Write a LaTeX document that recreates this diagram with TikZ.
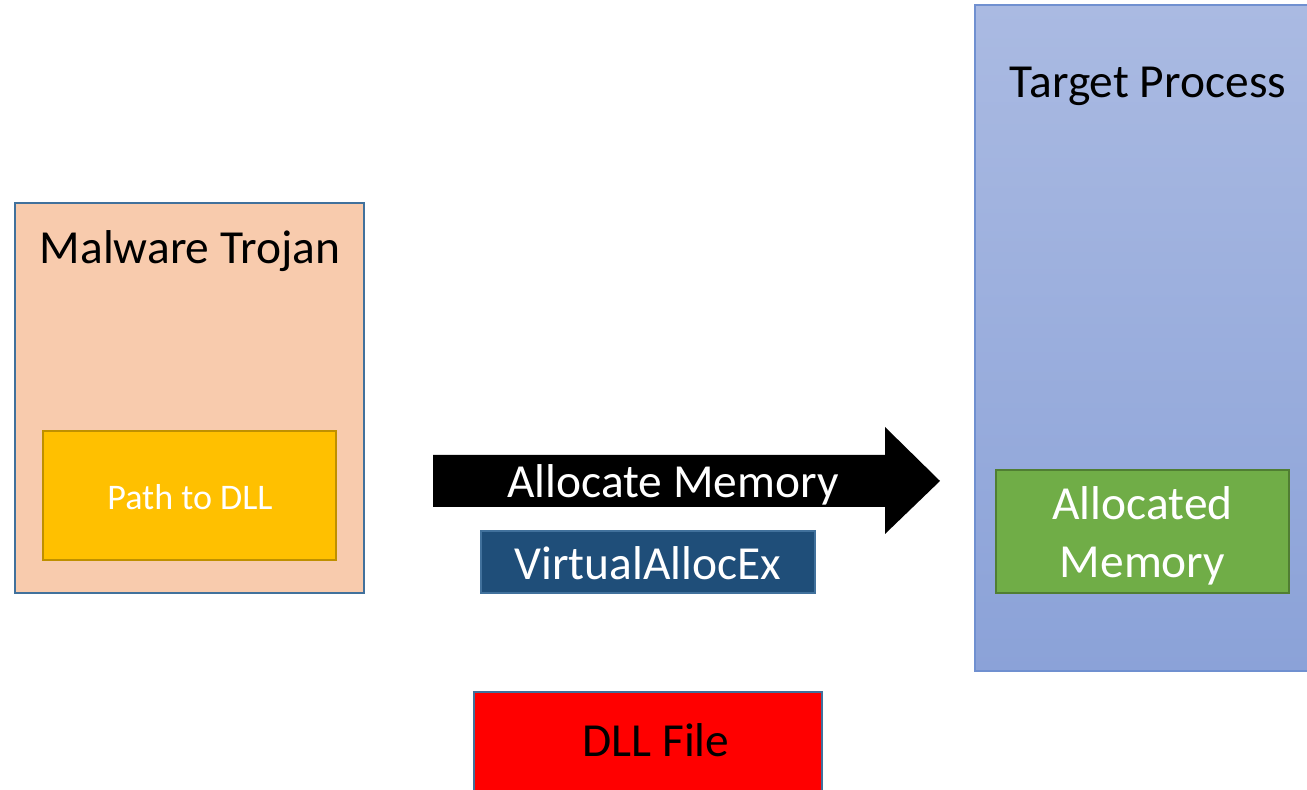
\documentclass[tikz,border=0pt]{standalone}
\usepackage{fontspec}
\setmainfont{Carlito}
\usepackage{xcolor}
\usetikzlibrary{shapes}

\definecolor{peach}{HTML}{F8CBAD}
\definecolor{edgeblue}{HTML}{41719C}
\definecolor{gold}{HTML}{FFC000}
\definecolor{darkgold}{HTML}{BF9000}
\definecolor{navy}{HTML}{1F4E79}
\definecolor{leaf}{HTML}{70AD47}
\definecolor{darkleaf}{HTML}{507E32}
\definecolor{paleblue}{HTML}{AABAE2}
\definecolor{midblue}{HTML}{8BA2D8}
\definecolor{procedge}{HTML}{7090D0}

\tikzset{
	bigtext/.style={font=\fontsize{27}{33}\selectfont, align=center, inner sep=0pt},
	smalltext/.style={font=\fontsize{20.5}{25}\selectfont, inner sep=0pt}
}

\begin{document}
\begin{tikzpicture}[line width=0.9pt]

	\useasboundingbox (0,0) rectangle (26.14,15.8);
	\clip (0,0) rectangle (26.14,15.8);

	% malware trojan box
	\draw[color=edgeblue, fill=peach] (0.30,3.94) rectangle (7.28,11.74);
	\draw[color=darkgold, fill=gold] (0.86,4.60) rectangle (6.72,7.18);

	% target process box (runs off the right edge)
	\shade[top color=paleblue, bottom color=midblue] (19.5,2.38) rectangle (26.4,15.7);
	\draw[color=procedge] (19.5,2.38) rectangle (26.4,15.7);
	\draw[color=darkleaf, fill=leaf] (19.92,3.94) rectangle (25.78,6.40);

	% allocate memory arrow
	\fill[black] (8.66,5.66) -- (17.7,5.66) -- (17.7,5.12) -- (18.8,6.18)
		-- (17.7,7.26) -- (17.7,6.70) -- (8.66,6.70) -- cycle;

	% api box
	\draw[color=edgeblue, fill=navy] (9.62,3.94) rectangle (16.30,5.18);

	% dll file box (runs off the bottom edge)
	\draw[color=edgeblue, fill=red] (9.48,-0.3) rectangle (16.44,1.96);

	% Text nodes
	\node[bigtext] (trojan) at (3.8,10.77) {Malware Trojan};
	\node[smalltext, text=white] (path) at (3.8,5.86) {Path to DLL};
	\node[bigtext] (target) at (22.96,14.08) {Target Process};
	\node[bigtext, text=white] (mem) at (22.85,5.09) {Allocated\\Memory};
	\node[bigtext, text=white] (alloc) at (13.46,6.10) {Allocate Memory};
	\node[bigtext, text=white] (api) at (12.96,4.54) {VirtualAllocEx};
	\node[bigtext] (dll) at (13.12,1.0) {DLL File};
\end{tikzpicture}
\end{document}
